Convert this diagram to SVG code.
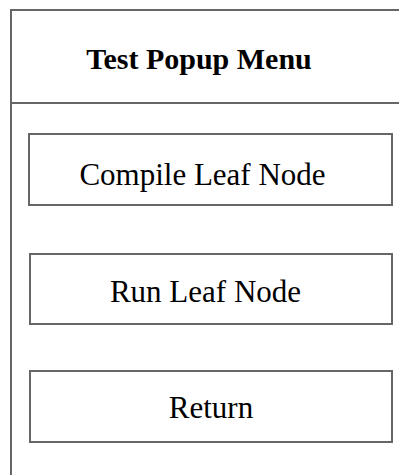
<svg xmlns="http://www.w3.org/2000/svg" width="399" height="475" viewBox="0 0 399 475">
  <style>
    .frame { fill: #ffffff; stroke: #666666; stroke-width: 2; }
    .rule { stroke: #666666; stroke-width: 2; fill: none; }
    .btn { fill: #ffffff; stroke: #666666; stroke-width: 2; }
    .title { font-family: "Liberation Serif", "Times New Roman", serif; font-size: 30px; font-weight: bold; fill: #000000; text-anchor: middle; }
    .label { font-family: "Liberation Serif", "Times New Roman", serif; font-size: 31px; fill: #000000; text-anchor: middle; }
  </style>
  <rect width="399" height="475" fill="#ffffff"/>
  <g id="popup-menu">
    <rect class="frame" x="11" y="10" width="400" height="480"/>
    <line class="rule" x1="11" y1="103" x2="399" y2="103"/>
    <text class="title" x="199" y="69">Test Popup Menu</text>
  </g>
  <g id="compile-leaf-node">
    <rect class="btn" x="29" y="134" width="363" height="71"/>
    <text class="label" x="202.5" y="185">Compile Leaf Node</text>
  </g>
  <g id="run-leaf-node">
    <rect class="btn" x="30" y="254" width="362" height="70"/>
    <text class="label" x="205.5" y="302">Run Leaf Node</text>
  </g>
  <g id="return">
    <rect class="btn" x="30" y="371" width="362" height="71"/>
    <text class="label" x="211" y="418">Return</text>
  </g>
  <g id="connectors"></g>
</svg>
